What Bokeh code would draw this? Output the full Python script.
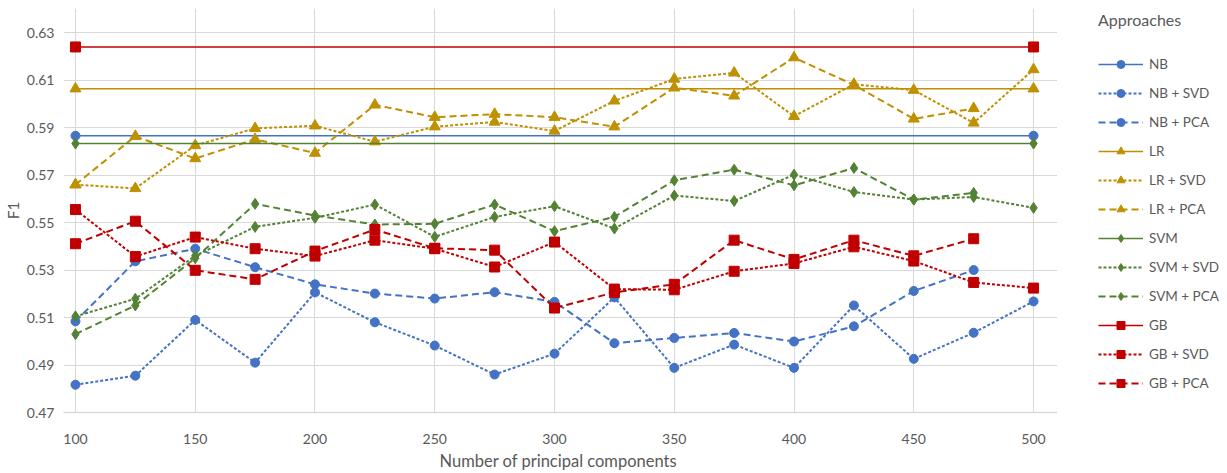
from bokeh.plotting import figure
from bokeh.layouts import row
from bokeh.models import Legend, LegendItem, FixedTicker, PrintfTickFormatter, Range1d
from bokeh.embed import file_html
from bokeh.resources import INLINE

# ---------------- data ----------------
components = [100, 125, 150, 175, 200, 225, 250, 275, 300, 325, 350, 375, 400, 425, 450, 475, 500]
components_pca = [100, 125, 150, 175, 200, 225, 250, 275, 300, 325, 350, 375, 400, 425, 450, 475]
baseline_x = [100, 500]

nb_base = [0.5866, 0.5866]
lr_base = [0.6064, 0.6064]
svm_base = [0.5833, 0.5833]
gb_base = [0.6240, 0.6240]

nb_svd = [0.4817, 0.4855, 0.5090, 0.4910, 0.5206, 0.5080, 0.4982, 0.4860, 0.4948, 0.5185, 0.4888,
          0.4986, 0.4888, 0.5151, 0.4926, 0.5036, 0.5168]
nb_pca = [0.5084, 0.5337, 0.5390, 0.5312, 0.5240, 0.5201, 0.5180, 0.5207, 0.5166, 0.4992, 0.5014,
          0.5035, 0.4999, 0.5063, 0.5212, 0.5300]

lr_svd = [0.5660, 0.5644, 0.5825, 0.5897, 0.5908, 0.5841, 0.5904, 0.5924, 0.5886, 0.6013, 0.6105,
          0.6131, 0.5948, 0.6083, 0.6058, 0.5920, 0.6145]
lr_pca = [0.5660, 0.5864, 0.5770, 0.5851, 0.5793, 0.5996, 0.5944, 0.5957, 0.5944, 0.5904, 0.6068,
          0.6034, 0.6195, 0.6080, 0.5937, 0.5981]

svm_svd = [0.5105, 0.5179, 0.5360, 0.5482, 0.5520, 0.5576, 0.5440, 0.5524, 0.5569, 0.5475, 0.5614,
           0.5591, 0.5702, 0.5629, 0.5597, 0.5608, 0.5562]
svm_pca = [0.5030, 0.5151, 0.5350, 0.5579, 0.5530, 0.5492, 0.5495, 0.5576, 0.5464, 0.5524, 0.5678,
           0.5723, 0.5657, 0.5730, 0.5597, 0.5625]

gb_svd = [0.5555, 0.5357, 0.5439, 0.5390, 0.5359, 0.5426, 0.5390, 0.5313, 0.5418, 0.5220, 0.5217,
          0.5295, 0.5328, 0.5398, 0.5338, 0.5248, 0.5224]
gb_pca = [0.5411, 0.5506, 0.5299, 0.5261, 0.5380, 0.5471, 0.5392, 0.5384, 0.5140, 0.5206, 0.5240,
          0.5426, 0.5345, 0.5426, 0.5360, 0.5432]

y_ticks = [0.47, 0.49, 0.51, 0.53, 0.55, 0.57, 0.59, 0.61, 0.63]
x_ticks = [100, 150, 200, 250, 300, 350, 400, 450, 500]

# ---------------- styles ----------------
BLUE = "#4472C4"
GOLD = "#BF9000"
GREEN = "#548235"
RED = "#C00000"
TEXT = "#595959"
GRID = "#D9D9D9"
FONT = "Lato"
SVD_DASH = "3 2"
PCA_DASH = "7 4"

p = figure(width=1057, height=473, output_backend="svg", toolbar_location=None,
           x_range=Range1d(95, 510), y_range=Range1d(0.47, 0.6402),
           min_border_left=61, min_border_right=0, min_border_top=8, min_border_bottom=59)
p.outline_line_color = None
p.background_fill_color = "white"

p.xgrid.grid_line_color = GRID
p.ygrid.grid_line_color = GRID
p.xaxis.ticker = FixedTicker(ticks=x_ticks)
p.yaxis.ticker = FixedTicker(ticks=y_ticks)
p.yaxis.formatter = PrintfTickFormatter(format="%.2f")

for ax in (p.xaxis[0], p.yaxis[0]):
    ax.major_tick_line_color = None
    ax.minor_tick_line_color = None
    ax.major_label_text_font = FONT
    ax.major_label_text_font_size = "14px"
    ax.major_label_text_color = TEXT
    ax.axis_label_text_font = FONT
    ax.axis_label_text_font_size = "16.5px"
    ax.axis_label_text_color = TEXT
    ax.axis_label_text_font_style = "normal"

p.yaxis.axis_label_text_font_size = "15px"
p.yaxis.axis_line_color = None
p.xaxis.axis_line_color = GRID
p.xaxis.axis_line_width = 1.5
p.xaxis.axis_label = "Number  of principal components"
p.yaxis.axis_label = "F1"
p.xaxis.major_label_standoff = 15
p.yaxis.major_label_standoff = 3
p.xaxis.axis_label_standoff = 4
p.yaxis.axis_label_standoff = 2

# legend panel: separate figure to the right; its ranges keep the proxy marks out of view
p2 = figure(width=170, height=473, output_backend="svg", toolbar_location=None,
            x_range=Range1d(0, 1), y_range=Range1d(0, 1),
            min_border_left=0, min_border_right=0, min_border_top=0, min_border_bottom=0)
p2.axis.visible = False
p2.grid.visible = False
p2.outline_line_color = None

items = []

def series(name, xs, ys, color, marker, size, dash, width):
    p.line(xs, ys, line_color=color, line_width=width, line_dash=dash)
    p.scatter(xs, ys, marker=marker, size=size, fill_color=color, line_color=color)
    k1 = p2.line(xs, ys, line_color=color, line_width=width, line_dash=dash)
    k2 = p2.scatter(xs, ys, marker=marker, size=size, fill_color=color, line_color=color)
    items.append(LegendItem(label=name, renderers=[k1, k2]))

groups = [
    ("NB", nb_base, nb_svd, nb_pca, BLUE, "circle", 9),
    ("LR", lr_base, lr_svd, lr_pca, GOLD, "triangle", 11),
    ("SVM", svm_base, svm_svd, svm_pca, GREEN, "diamond", 11),
    ("GB", gb_base, gb_svd, gb_pca, RED, "square", 10),
]

for name, base, svd, pca, color, marker, size in groups:
    series(name, baseline_x, base, color, marker, size, "solid", 1.5)
    series(name + " + SVD", components, svd, color, marker, size, SVD_DASH, 2)
    series(name + " + PCA", components_pca, pca, color, marker, size, PCA_DASH, 2)

legend = Legend(items=items, location=(41, 19), title="Approaches",
                glyph_width=45, glyph_height=20, label_height=20, spacing=9,
                label_standoff=6, padding=8, margin=0, title_standoff=25,
                border_line_color=None, background_fill_alpha=0)
legend.title_text_font = FONT
legend.title_text_font_size = "16px"
legend.title_text_color = TEXT
legend.title_text_font_style = "normal"
legend.label_text_font = FONT
legend.label_text_font_size = "13.5px"
legend.label_text_color = TEXT
p2.add_layout(legend)

layout = row(p, p2, spacing=0)
open("out.html", "w").write(file_html(layout, INLINE))
